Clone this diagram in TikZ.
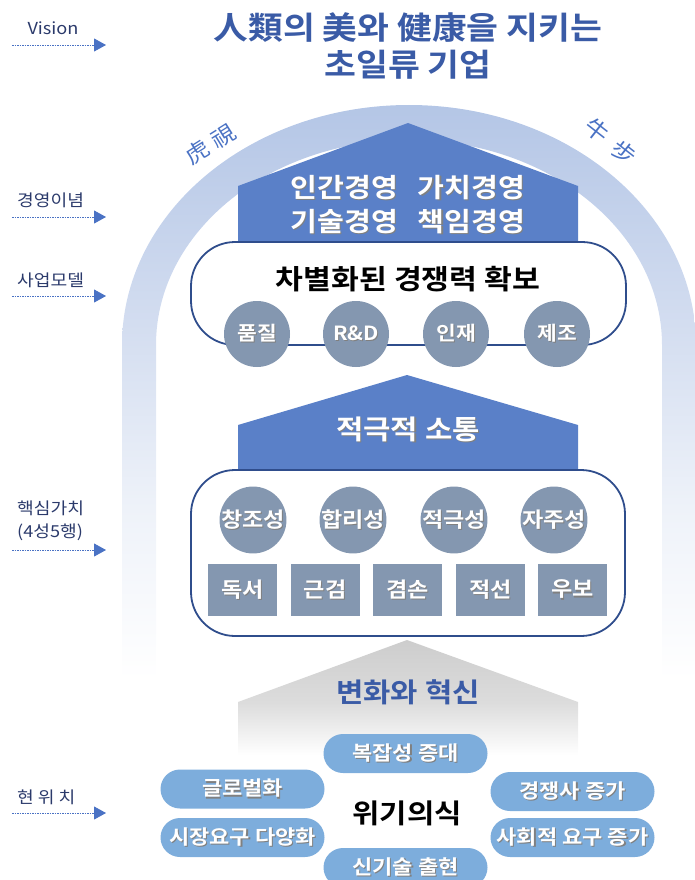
\documentclass[tikz,border=0pt]{standalone}
\usepackage{fontspec}
\setmainfont{Noto Sans CJK KR}[BoldFont={Noto Sans CJK KR Bold},FakeStretch=1.1]
\usetikzlibrary{arrows.meta}
\definecolor{roofblue}{HTML}{5A80C8}
\definecolor{navy}{HTML}{2F4D8C}
\definecolor{titleblue}{HTML}{3A5BA6}
\definecolor{circgrey}{HTML}{8497B0}
\definecolor{pillblue}{HTML}{7DADDC}
\definecolor{labelnavy}{HTML}{2B3A6B}
\definecolor{arrowblue}{HTML}{4A72C4}
\definecolor{archa}{HTML}{B4C6E6}
\definecolor{archm}{HTML}{D3DDF0}
\definecolor{archl}{HTML}{EEF2F9}
\definecolor{greya}{HTML}{CDCDCD}
\definecolor{greyb}{HTML}{DCDCDC}
\pgfdeclareverticalshading{archshade}{100bp}{color(0bp)=(white); color(25bp)=(white); color(40bp)=(archl); color(56bp)=(archm); color(75bp)=(archa); color(100bp)=(archa)}
\pgfdeclareverticalshading{greyshade}{100bp}{color(0bp)=(white); color(29bp)=(white); color(50bp)=(greyb); color(75bp)=(greya); color(100bp)=(greya)}
\newcommand{\shw}[1]{\makebox[0pt][l]{\kern1.2pt\raisebox{-1.2pt}{\textcolor{black!50}{#1}}}\textcolor{white}{#1}}
\tikzset{
  lblarrow/.style={draw=arrowblue, line width=0.8pt, dash pattern=on 1.5pt off 1pt, -{Triangle[length=12pt,width=13pt]}},
  sidelabel/.style={text=labelnavy, font=\fontsize{16.5}{20}\selectfont, anchor=west, inner sep=0pt, align=left},
  rooftext/.style={font=\fontsize{26.5}{34}\selectfont\bfseries, align=center, inner sep=0pt},
  bigbox/.style={draw=navy, line width=1.8pt, fill=white, rounded corners=44pt, inner sep=0pt},
  greycirc/.style={circle, fill=circgrey, minimum size=66pt, inner sep=0pt},
  greysq/.style={rectangle, fill=circgrey, minimum width=69pt, minimum height=52pt, inner sep=0pt, font=\fontsize{21}{24}\selectfont\bfseries},
  pill/.style={rectangle, rounded corners=19.5pt, fill=pillblue, minimum width=164pt, minimum height=39pt, inner sep=0pt, font=\fontsize{20}{24}\selectfont\bfseries},
  hanja/.style={text=arrowblue, font=\fontsize{22}{24}\selectfont, inner sep=0pt},
}
\begin{document}
\begin{tikzpicture}[x=1pt,y=-1pt]
\useasboundingbox (0,0) rectangle (694,880);
% arch
\shade[shading=archshade] (122,680) -- (122,345) arc[start angle=180,end angle=0,x radius=287pt,y radius=240pt] -- (696,680) -- (662,680) -- (662,345) arc[start angle=0,end angle=180,x radius=253pt,y radius=205pt] -- (156,680) -- cycle;
% title
\node[text=titleblue, font=\fontsize{31.5}{36}\selectfont\bfseries, inner sep=0pt] (title1) at (408,28) {人類의 美와 健康을 지키는};
\node[text=titleblue, font=\fontsize{31.5}{36}\selectfont\bfseries, inner sep=0pt] (title2) at (408,65) {초일류 기업};
% side words
\node[hanja, rotate=32] (ho) at (197,152) {虎};
\node[hanja, rotate=32] (si) at (224,136) {視};
\node[hanja, rotate=-38] (u) at (597,130) {牛};
\node[hanja, rotate=-38] (bo) at (624,152) {步};
% roof 1
\fill[roofblue] (238,186) -- (408,123) -- (578,186) -- (578,243) -- (238,243) -- cycle;
\node[rooftext] (roof1t) at (408,205) {\shw{인간경영\hspace{0.75em}가치경영}\\\shw{기술경영\hspace{0.75em}책임경영}};
% box 1
\node[bigbox, minimum width=435pt, minimum height=103pt] (box1) at (408.5,293.5) {};
\node[font=\fontsize{27.5}{30}\selectfont\bfseries, inner sep=0pt] (b1h) at (408,279) {차별화된 경쟁력 확보};
\node[greycirc, font=\fontsize{19.5}{22}\selectfont\bfseries] (c1) at (257,334) {\shw{품질}};
\node[greycirc, font=\fontsize{19.5}{22}\selectfont\bfseries] (c2) at (356,334) {\shw{R\&D}};
\node[greycirc, font=\fontsize{19.5}{22}\selectfont\bfseries] (c3) at (456,334) {\shw{인재}};
\node[greycirc, font=\fontsize{19.5}{22}\selectfont\bfseries] (c4) at (557,334) {\shw{제조}};
% roof 2
\fill[roofblue] (238,425) -- (407,375) -- (578,425) -- (578,471) -- (238,471) -- cycle;
\node[rooftext, font=\fontsize{27}{30}\selectfont\bfseries] (roof2t) at (408,430) {\shw{적극적 소통}};
% box 2
\node[bigbox, minimum width=434pt, minimum height=166pt] (box2) at (408,553) {};
\node[greycirc, font=\fontsize{21}{24}\selectfont\bfseries] (v1) at (253,520) {\shw{창조성}};
\node[greycirc, font=\fontsize{21}{24}\selectfont\bfseries] (v2) at (353,520) {\shw{합리성}};
\node[greycirc, font=\fontsize{21}{24}\selectfont\bfseries] (v3) at (454,520) {\shw{적극성}};
\node[greycirc, font=\fontsize{21}{24}\selectfont\bfseries] (v4) at (554,520) {\shw{자주성}};
\node[greysq] (s1) at (242.5,590) {\shw{독서}};
\node[greysq] (s2) at (325,590) {\shw{근검}};
\node[greysq] (s3) at (407.5,590) {\shw{겸손}};
\node[greysq] (s4) at (490.5,590) {\shw{적선}};
\node[greysq] (s5) at (572.5,590) {\shw{우보}};
% grey roof
\shade[shading=greyshade] (238,702) -- (407,640) -- (578,702) -- (578,765) -- (238,765) -- cycle;
\node[text=titleblue, font=\fontsize{27}{30}\selectfont\bfseries, inner sep=0pt] (gt) at (408,692) {변화와 혁신};
% pills
\node[pill] (p1) at (405.5,753.5) {\shw{복잡성 증대}};
\node[pill] (p2) at (242.5,789) {\shw{글로벌화}};
\node[pill] (p3) at (242.5,837.5) {\shw{시장요구 다양화}};
\node[pill] (p4) at (572.5,791.5) {\shw{경쟁사 증가}};
\node[pill] (p5) at (572.5,837.5) {\shw{사회적 요구 증가}};
\node[pill] (p6) at (405.5,867.5) {\shw{신기술 출현}};
\node[font=\fontsize{27}{30}\selectfont\bfseries, inner sep=0pt] (crisis) at (407,813) {위기의식};
% side labels
\node[text=labelnavy, font=\fontsize{16.5}{20}\selectfont, inner sep=0pt] (lv) at (53,28) {Vision};
\node[sidelabel] (l1) at (17,200) {경영이념};
\node[sidelabel] (l2) at (17,280) {사업모델};
\node[sidelabel, font=\fontsize{16.5}{23}\selectfont] (l3) at (17,521) {핵심가치\\(4성5행)};
\node[sidelabel] (l4) at (17,797) {현 위 치};
\coordinate (a0s) at (12,45); \coordinate (a0e) at (106,45);
\coordinate (a1s) at (12,217); \coordinate (a1e) at (106,217);
\coordinate (a2s) at (12,296); \coordinate (a2e) at (106,296);
\coordinate (a3s) at (12,550); \coordinate (a3e) at (106,550);
\coordinate (a4s) at (12,813); \coordinate (a4e) at (106,813);
\draw[lblarrow] (a0s) -- (a0e);
\draw[lblarrow] (a1s) -- (a1e);
\draw[lblarrow] (a2s) -- (a2e);
\draw[lblarrow] (a3s) -- (a3e);
\draw[lblarrow] (a4s) -- (a4e);
\end{tikzpicture}
\end{document}
